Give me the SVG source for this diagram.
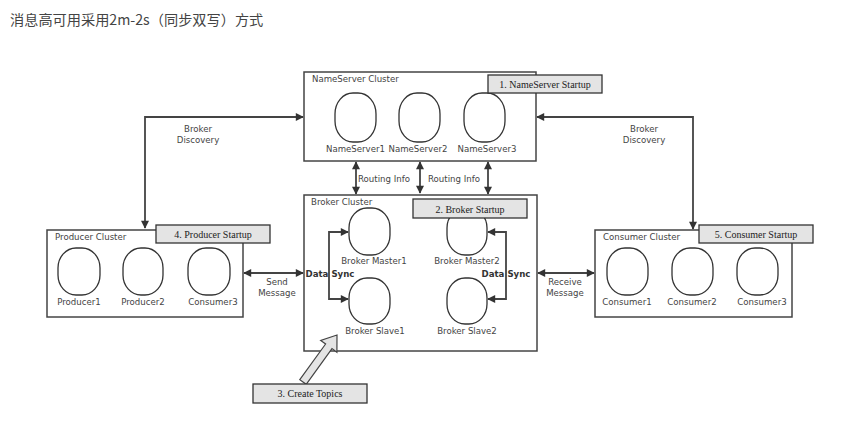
<svg xmlns="http://www.w3.org/2000/svg" width="845" height="430" viewBox="0 0 845 430">
<style>
.cluster{fill:#fff;stroke:#444;stroke-width:1.5}
.node{fill:#fff;stroke:#333;stroke-width:1.3}
.step{fill:#e4e4e4;stroke:#333;stroke-width:1.3}
.lbl{font-family:"DejaVu Sans","Noto Sans",sans-serif;font-size:8.6px;fill:#444}
.nl{font-family:"DejaVu Sans","Noto Sans",sans-serif;font-size:8.6px;fill:#444;text-anchor:middle}
.st{font-family:"Liberation Serif",serif;font-size:10px;fill:#222;text-anchor:middle}
.bold{font-family:"DejaVu Sans","Noto Sans",sans-serif;font-size:8.6px;font-weight:bold;fill:#333;text-anchor:middle}
.conn{fill:none;stroke:#444;stroke-width:1.8}
.title{font-family:"Noto Sans CJK SC","Noto Sans",sans-serif;font-size:14.2px;fill:#444}
</style>
<defs>
<marker id="ah" viewBox="0 0 10 10" refX="9" refY="5" markerWidth="9" markerHeight="8" markerUnits="userSpaceOnUse" orient="auto-start-reverse">
<path d="M0,0 L10,5 L0,10 z" fill="#333"/>
</marker>
</defs>
<rect width="845" height="430" fill="#fff"/>
<text class="title" x="10" y="25">消息高可用采用2m-2s（同步双写）方式</text>

<g id="connectors">
<path class="conn" d="M145,228 V117 H303" marker-start="url(#ah)" marker-end="url(#ah)"/>
<path class="conn" d="M537,117 H693 V229" marker-start="url(#ah)" marker-end="url(#ah)"/>
<path class="conn" d="M356,162 V194" marker-start="url(#ah)" marker-end="url(#ah)"/>
<path class="conn" d="M420,162 V193" marker-start="url(#ah)" marker-end="url(#ah)"/>
<path class="conn" d="M488,162 V194" marker-start="url(#ah)" marker-end="url(#ah)"/>
<path class="conn" d="M244,273 H303" marker-start="url(#ah)" marker-end="url(#ah)"/>
<path class="conn" d="M538,273 H594" marker-start="url(#ah)" marker-end="url(#ah)"/>
<text class="lbl" x="358" y="182">Routing Info</text>
<text class="lbl" x="428" y="182">Routing Info</text>
<text class="nl" x="198" y="132">Broker</text>
<text class="nl" x="198" y="143">Discovery</text>
<text class="nl" x="644" y="132">Broker</text>
<text class="nl" x="644" y="143">Discovery</text>
<text class="nl" x="277" y="285">Send</text>
<text class="nl" x="277" y="296">Message</text>
<text class="nl" x="565" y="285">Receive</text>
<text class="nl" x="565" y="296">Message</text>
</g>

<g id="nameserver-cluster">
<rect class="cluster" x="304" y="72" width="232" height="89"/>
<text class="lbl" x="312" y="82">NameServer Cluster</text>
</g>
<g id="nameserver1"><rect class="node" x="335" y="93" width="41" height="49" rx="18" ry="21"/><text class="nl" x="355.5" y="152">NameServer1</text></g>
<g id="nameserver2"><rect class="node" x="399" y="93" width="41" height="49" rx="18" ry="21"/><text class="nl" x="418" y="152">NameServer2</text></g>
<g id="nameserver3"><rect class="node" x="464" y="93" width="41" height="49" rx="18" ry="21"/><text class="nl" x="487" y="152">NameServer3</text></g>
<g id="step1"><rect class="step" x="488" y="75" width="114" height="18"/><text class="st" x="545" y="88">1. NameServer Startup</text></g>

<g id="broker-cluster">
<rect class="cluster" x="304" y="195" width="233" height="156"/>
<text class="lbl" x="311" y="205">Broker Cluster</text>
</g>
<g id="broker-master1"><rect class="node" x="349" y="208" width="41" height="47" rx="18" ry="20"/><text class="nl" x="374" y="264">Broker Master1</text></g>
<g id="broker-master2"><rect class="node" x="447" y="208" width="40" height="47" rx="18" ry="20"/><text class="nl" x="467" y="264">Broker Master2</text></g>
<g id="broker-slave1"><rect class="node" x="349" y="278" width="41" height="46" rx="18" ry="20"/><text class="nl" x="375" y="334">Broker Slave1</text></g>
<g id="broker-slave2"><rect class="node" x="447" y="278" width="40" height="46" rx="18" ry="20"/><text class="nl" x="467" y="334">Broker Slave2</text></g>
<g id="step2"><rect class="step" x="413" y="199" width="114" height="19"/><text class="st" x="470" y="212.5">2. Broker Startup</text></g>

<g id="data-sync">
<path class="conn" d="M348,232 H329 V299 H348" marker-start="url(#ah)" marker-end="url(#ah)"/>
<path class="conn" d="M488,232 H506 V299 H488" marker-start="url(#ah)" marker-end="url(#ah)"/>
<text class="bold" x="330" y="277">Data Sync</text>
<text class="bold" x="506" y="277">Data Sync</text>
</g>

<g id="producer-cluster">
<rect class="cluster" x="47" y="230" width="196" height="87"/>
<text class="lbl" x="55" y="240">Producer Cluster</text>
</g>
<g id="producer1"><rect class="node" x="58" y="248" width="42" height="47" rx="18" ry="20"/><text class="nl" x="79" y="305">Producer1</text></g>
<g id="producer2"><rect class="node" x="123" y="248" width="40" height="47" rx="18" ry="20"/><text class="nl" x="143" y="305">Producer2</text></g>
<g id="producer-consumer3"><rect class="node" x="188" y="248" width="42" height="47" rx="18" ry="20"/><text class="nl" x="213" y="305">Consumer3</text></g>
<g id="step4"><rect class="step" x="156" y="225" width="114" height="18"/><text class="st" x="213" y="238">4. Producer Startup</text></g>

<g id="consumer-cluster">
<rect class="cluster" x="595" y="230" width="197" height="87"/>
<text class="lbl" x="603" y="240">Consumer Cluster</text>
</g>
<g id="consumer1"><rect class="node" x="607" y="248" width="41" height="47" rx="18" ry="20"/><text class="nl" x="627" y="305">Consumer1</text></g>
<g id="consumer2"><rect class="node" x="672" y="248" width="41" height="47" rx="18" ry="20"/><text class="nl" x="692" y="305">Consumer2</text></g>
<g id="consumer3"><rect class="node" x="737" y="248" width="41" height="47" rx="18" ry="20"/><text class="nl" x="762" y="305">Consumer3</text></g>
<g id="step5"><rect class="step" x="699" y="225" width="114" height="18"/><text class="st" x="756" y="238">5. Consumer Startup</text></g>

<g id="step3">
<polygon fill="#e4e4e4" stroke="#444" stroke-width="1.2" stroke-linejoin="miter" points="299.8,379.7 325.6,344 320.7,340.4 337,335 336.9,352.2 332,348.6 306.2,384.3"/>
<rect class="step" x="253" y="384" width="114" height="19"/>
<text class="st" x="310" y="397">3. Create Topics</text>
</g>
</svg>
